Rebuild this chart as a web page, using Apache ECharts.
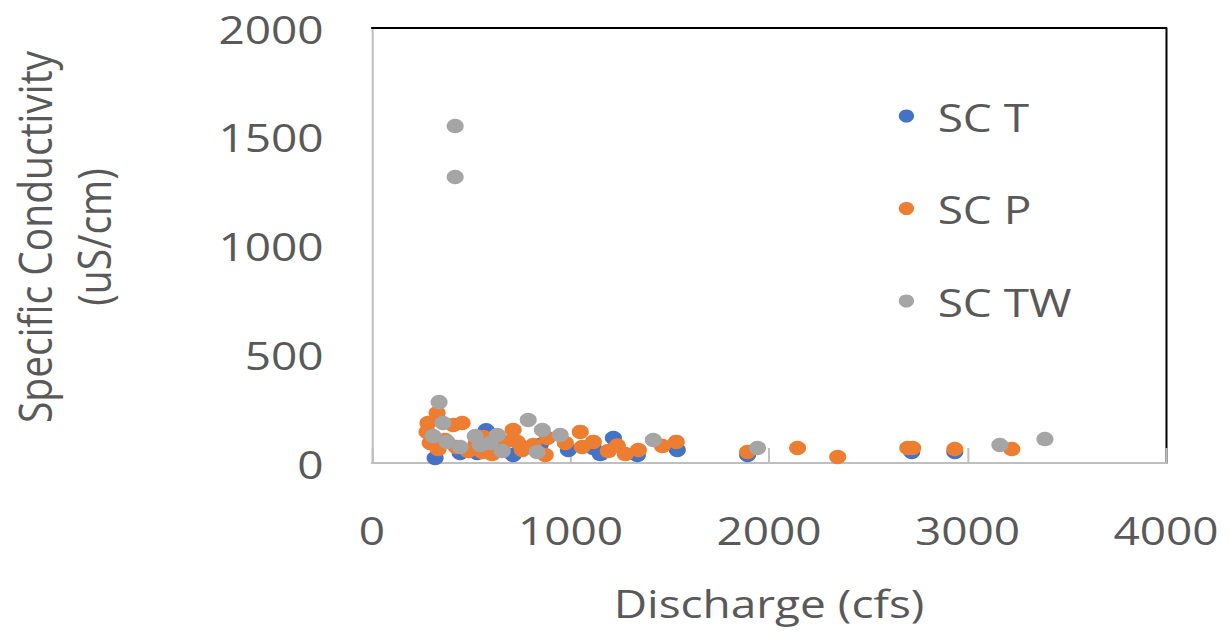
<!DOCTYPE html>
<html>
<head>
<meta charset="utf-8">
<script src="https://cdn.jsdelivr.net/npm/echarts@6/dist/echarts.min.js"></script>
<style>
  html, body { margin: 0; padding: 0; background: #fff; overflow: hidden; }
  #wrap { width: 1229px; height: 634px; overflow: hidden; }
  #chart { width: 1042px; height: 634px; transform: scaleX(1.17946); transform-origin: 0 0; }
</style>
</head>
<body>
<div id="wrap"><div id="chart"></div></div>
<script>
// Data: [discharge (cfs), specific conductivity (uS/cm)]
const scT = [
  [318, 23], [444, 46], [530, 46], [575, 150], [711, 37], [847, 83], [989, 60],
  [1115, 69], [1216, 115], [1150, 41], [1337, 37], [1538, 60], [1892, 37],
  [2719, 51], [2936, 51], [646, 106], [747, 78]
];
const scP = [
  [328, 230], [282, 184], [277, 143], [293, 92], [333, 64], [409, 175], [454, 184],
  [424, 74], [484, 55], [555, 51], [605, 41], [711, 152], [731, 97], [757, 60],
  [873, 37], [883, 115], [974, 92], [1049, 143], [1059, 74], [1115, 97], [1190, 55],
  [1236, 80], [1276, 41], [1342, 60], [1463, 78], [1533, 97], [1892, 51], [2144, 69],
  [2346, 28], [2699, 69], [2724, 69], [2936, 64], [3223, 64], [368, 106], [525, 92],
  [671, 97], [812, 83], [560, 120]
];
const scTW = [
  [419, 1549], [419, 1315], [338, 280], [358, 184], [308, 124], [378, 97], [444, 74],
  [520, 124], [545, 83], [595, 92], [631, 129], [656, 55], [787, 198], [858, 152],
  [832, 51], [948, 129], [1417, 106], [1942, 69], [3163, 83], [3390, 110]
];
const seriesNames = ['SC T', 'SC P', 'SC TW'];
const seriesColors = ['#4472C4', '#ED7D31', '#A5A5A5'];
const xTicks = [0, 1000, 2000, 3000, 4000];
const yTicks = [0, 500, 1000, 1500, 2000];
const xTitle = 'Discharge (cfs)';
const yTitle = 'Specific Conductivity\n(uS/cm)';

const FONT = 'Open Sans';
const TXT = '#595959';
const plain = v => String(v);
const chart = echarts.init(document.getElementById('chart'), null, { renderer: 'svg' });
const option = {
  animation: false,
  backgroundColor: '#fff',
  textStyle: { fontFamily: FONT },
  grid: { left: 315.4, right: 53.4, top: 28, bottom: 171, containLabel: false, outerBoundsMode: 'none' },
  legend: {
    orient: 'vertical',
    left: 757,
    top: 91.5,
    itemWidth: 43,
    itemHeight: 13,
    itemGap: 53.5,
    icon: 'circle',
    data: seriesNames,
    textStyle: { fontFamily: FONT, fontSize: 39, lineHeight: 39, color: TXT }
  },
  xAxis: [{
    type: 'value',
    min: xTicks[0], max: xTicks[xTicks.length - 1], interval: 1000,
    name: xTitle, nameLocation: 'middle', nameGap: 120,
    nameTextStyle: { fontFamily: FONT, fontSize: 39, lineHeight: 39, color: TXT },
    axisLine: { show: true, onZero: false, lineStyle: { color: '#BFBFBF', width: 2 } },
    axisTick: { show: true, inside: true, length: 15, lineStyle: { color: '#BFBFBF', width: 1.7 } },
    axisLabel: { margin: 47, fontFamily: FONT, fontSize: 39, lineHeight: 39, color: TXT, formatter: plain },
    splitLine: { show: false }
  }, {
    type: 'value', position: 'top',
    min: xTicks[0], max: xTicks[xTicks.length - 1], interval: 1000,
    axisLine: { show: true, onZero: false, lineStyle: { color: '#000', width: 2 } },
    axisTick: { show: false }, axisLabel: { show: false }, splitLine: { show: false }
  }],
  yAxis: [{
    type: 'value',
    min: yTicks[0], max: yTicks[yTicks.length - 1], interval: 500,
    name: yTitle, nameLocation: 'middle', nameRotate: 90, nameGap: 212,
    nameTextStyle: { fontFamily: FONT, fontSize: 39, lineHeight: 50, color: TXT, padding: [0, 0, 0, 17] },
    axisLine: { show: true, onZero: false, lineStyle: { color: '#BFBFBF', width: 1.7 } },
    axisTick: { show: false },
    axisLabel: { margin: 41, fontFamily: FONT, fontSize: 39, lineHeight: 39, color: TXT, formatter: plain },
    splitLine: { show: false }
  }, {
    type: 'value', position: 'right',
    min: yTicks[0], max: yTicks[yTicks.length - 1], interval: 500,
    axisLine: { show: true, onZero: false, lineStyle: { color: '#000', width: 1.7 } },
    axisTick: { show: false }, axisLabel: { show: false }, splitLine: { show: false }
  }],
  series: [scT, scP, scTW].map((d, i) => ({
    name: seriesNames[i],
    type: 'scatter',
    xAxisIndex: 0, yAxisIndex: 0,
    symbol: 'circle',
    symbolSize: 14.5,
    itemStyle: { color: seriesColors[i], opacity: 1 },
    data: d,
    z: 3 + i
  }))
};
chart.setOption(option);
</script>
</body>
</html>
